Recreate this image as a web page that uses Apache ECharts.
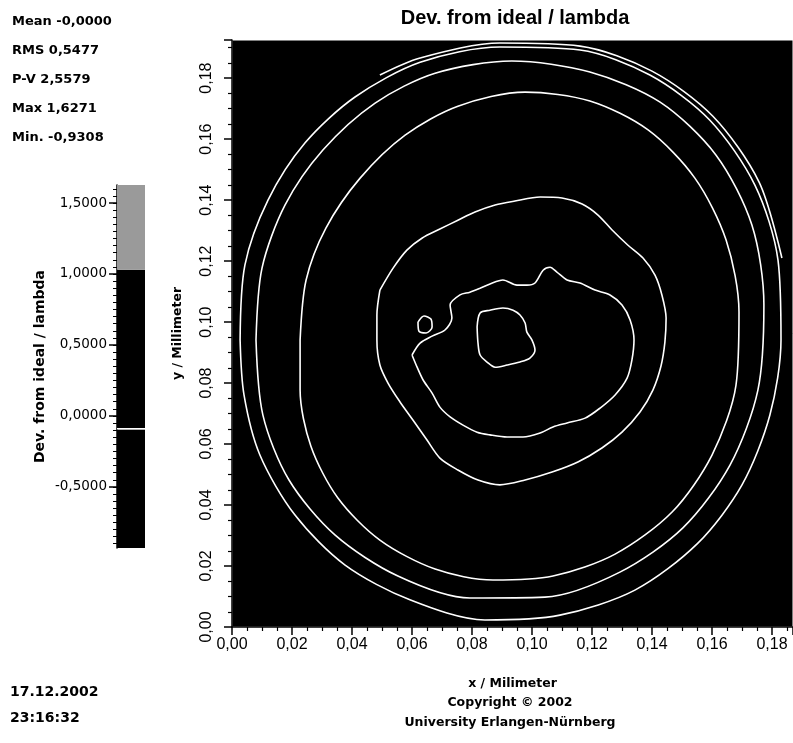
<!DOCTYPE html>
<html><head><meta charset="utf-8">
<script src="https://cdn.jsdelivr.net/npm/echarts@6/dist/echarts.min.js"></script>
<style>html,body{margin:0;padding:0;background:#fff}#c{width:793px;height:743px}</style>
</head><body><div id="c"></div>
<script>
// ---------- data ----------
const chartTitle = 'Dev. from ideal / lambda';
const statNames = ['Mean', 'RMS', 'P-V', 'Max', 'Min.'];
const statValues = ['-0,0000', '0,5477', '2,5579', '1,6271', '-0,9308'];
const dateText = '17.12.2002';
const timeText = '23:16:32';
const xName = 'x / Milimeter';
const yName = 'y / Millimeter';
const footer1 = 'Copyright \u00A9 2002';
const footer2 = 'University Erlangen-N\u00FCrnberg';

const xMin = 0, xMax = 0.187, yMin = 0, yMax = 0.1925, tickStep = 0.02;

// colour bar (Dev. from ideal / lambda)
const cbMin = -0.9308, cbMax = 1.6271;
const cbLabelValues = [-0.5, 0, 0.5, 1, 1.5];
const bandLow  = [-0.9308, -0.095, -0.085, 1.03];
const bandHigh = [-0.095, -0.085, 1.03, 1.6271];

// contour lines [x mm, y mm]
const contour1 = [[0.0817,0.0984],[0.0827,0.1030],[0.0860,0.1039],[0.0903,0.1046],[0.0937,0.1039],[0.0960,0.1023],[0.0977,0.0997],[0.0983,0.0967],[0.1000,0.0941],[0.1010,0.0908],[0.0993,0.0882],[0.0960,0.0869],[0.0917,0.0859],[0.0877,0.0852],[0.0850,0.0869],[0.0827,0.0892],[0.0820,0.0931],[0.0817,0.0984]];
const contour2 = [[0.0600,0.0892],[0.0627,0.0931],[0.0667,0.0954],[0.0710,0.0974],[0.0733,0.1013],[0.0727,0.1056],[0.0760,0.1089],[0.0793,0.1098],[0.0827,0.1111],[0.0860,0.1125],[0.0903,0.1138],[0.0950,0.1121],[0.0983,0.1121],[0.1010,0.1128],[0.1037,0.1170],[0.1060,0.1180],[0.1083,0.1164],[0.1117,0.1138],[0.1160,0.1128],[0.1210,0.1105],[0.1260,0.1089],[0.1300,0.1056],[0.1327,0.1007],[0.1340,0.0941],[0.1333,0.0875],[0.1317,0.0816],[0.1277,0.0761],[0.1227,0.0718],[0.1177,0.0685],[0.1117,0.0669],[0.1070,0.0656],[0.1027,0.0636],[0.0970,0.0623],[0.0917,0.0623],[0.0860,0.0630],[0.0817,0.0639],[0.0770,0.0662],[0.0727,0.0689],[0.0693,0.0721],[0.0667,0.0767],[0.0637,0.0810],[0.0617,0.0852],[0.0600,0.0892]];
const contour2b = [[0.0620,0.1000],[0.0640,0.1020],[0.0663,0.1010],[0.0667,0.0984],[0.0647,0.0964],[0.0623,0.0970],[0.0620,0.1000]];
const contour3 = [[0.0493,0.1105],[0.0537,0.1177],[0.0583,0.1236],[0.0633,0.1275],[0.0693,0.1305],[0.0753,0.1334],[0.0810,0.1361],[0.0877,0.1384],[0.0943,0.1397],[0.1027,0.1410],[0.1100,0.1407],[0.1167,0.1387],[0.1220,0.1351],[0.1267,0.1302],[0.1320,0.1252],[0.1370,0.1210],[0.1410,0.1154],[0.1433,0.1089],[0.1447,0.1013],[0.1443,0.0934],[0.1430,0.0856],[0.1403,0.0777],[0.1360,0.0705],[0.1300,0.0639],[0.1233,0.0587],[0.1153,0.0541],[0.1067,0.0508],[0.0977,0.0482],[0.0893,0.0466],[0.0820,0.0482],[0.0753,0.0515],[0.0693,0.0554],[0.0650,0.0613],[0.0603,0.0679],[0.0560,0.0738],[0.0520,0.0800],[0.0493,0.0859],[0.0483,0.0941],[0.0483,0.1023],[0.0493,0.1105]];
const contour4 = [[0.0227,0.0941],[0.0247,0.1138],[0.0313,0.1308],[0.0427,0.1472],[0.0577,0.1613],[0.0753,0.1708],[0.0977,0.1754],[0.1193,0.1725],[0.1387,0.1630],[0.1543,0.1472],[0.1647,0.1269],[0.1690,0.1033],[0.1680,0.0793],[0.1600,0.0564],[0.1467,0.0377],[0.1277,0.0239],[0.1070,0.0167],[0.0870,0.0154],[0.0677,0.0190],[0.0493,0.0285],[0.0353,0.0423],[0.0263,0.0593],[0.0227,0.0777],[0.0227,0.0941]];
const contour5 = [[0.0080,0.0941],[0.0100,0.1177],[0.0177,0.1384],[0.0303,0.1564],[0.0477,0.1718],[0.0677,0.1816],[0.0933,0.1856],[0.1193,0.1820],[0.1427,0.1721],[0.1613,0.1548],[0.1733,0.1318],[0.1773,0.1056],[0.1753,0.0777],[0.1660,0.0531],[0.1503,0.0325],[0.1293,0.0180],[0.1043,0.0098],[0.0793,0.0095],[0.0553,0.0167],[0.0343,0.0302],[0.0190,0.0482],[0.0103,0.0695],[0.0080,0.0941]];
const contour6 = [[0.0027,0.0941],[0.0043,0.1187],[0.0120,0.1400],[0.0243,0.1587],[0.0410,0.1738],[0.0627,0.1852],[0.0893,0.1902],[0.1160,0.1892],[0.1393,0.1810],[0.1593,0.1662],[0.1743,0.1449],[0.1820,0.1203],[0.1830,0.0941],[0.1793,0.0695],[0.1700,0.0466],[0.1553,0.0275],[0.1343,0.0121],[0.1093,0.0039],[0.0843,0.0023],[0.0593,0.0089],[0.0377,0.0203],[0.0210,0.0367],[0.0093,0.0564],[0.0040,0.0761],[0.0027,0.0941]];
const contour7 = [[0.0493,0.1810],[0.0627,0.1866],[0.0893,0.1915],[0.1160,0.1905],[0.1400,0.1823],[0.1603,0.1675],[0.1757,0.1459],[0.1833,0.1210]];
const contours = [contour1, contour2, contour2b, contour3, contour4, contour5, contour6, contour7];

// ---------- chart ----------
const comma = (v, d) => v.toFixed(d).replace('.', ',');
const cbMinorTicks = [];
for (let k = -18; k <= 32; k++) cbMinorTicks.push(k * 0.05);

const statFont = 'DejaVu Sans';
const txt = (size, weight) => ({ fontFamily: statFont, fontSize: size, fontWeight: weight, color: '#000' });
const titles = [
  { text: chartTitle, left: 515, textAlign: 'center', top: 8, padding: 0,
    textStyle: { fontFamily: 'Liberation Sans', fontWeight: 'bold', fontSize: 20, color: '#000' } }
];
statNames.forEach((n, i) => {
  titles.push({ text: n + ' ' + statValues[i], left: 12, top: 15 + i * 29, padding: 0, textStyle: txt(13, 'bold') });
});
titles.push({ text: dateText, left: 10, top: 685, padding: 0, textStyle: txt(14, 'bold') });
titles.push({ text: timeText, left: 10, top: 711, padding: 0, textStyle: txt(14, 'bold') });
titles.push({ text: footer1, left: 510, textAlign: 'center', top: 696, padding: 0, textStyle: txt(12.5, 'bold') });
titles.push({ text: footer2, left: 510, textAlign: 'center', top: 716, padding: 0, textStyle: txt(12.5, 'bold') });

const cbColors = ['#000000', '#ffffff', '#000000', '#9a9a9a'];

const option = {
  backgroundColor: '#fff',
  animation: false,
  title: titles,
  grid: [
    { left: 232, right: 0, top: 40, bottom: 116, show: true, backgroundColor: '#000', borderColor: '#fff', borderWidth: 1 },
    { left: 117, width: 28, top: 185, height: 363, show: false }
  ],
  xAxis: [
    { gridIndex: 0, type: 'value', min: xMin, max: xMax, interval: tickStep,
      name: xName, nameLocation: 'middle', nameGap: 50,
      nameTextStyle: txt(12.5, 'bold'),
      axisLine: { show: true, onZero: false, lineStyle: { color: '#000', width: 1.5 } },
      axisTick: { show: true, length: 8, lineStyle: { color: '#000', width: 1.5 } },
      minorTick: { show: true, splitNumber: 4, length: 4, lineStyle: { color: '#000', width: 1.2 } },
      splitLine: { show: false },
      axisLabel: { margin: 10, showMaxLabel: false, fontFamily: 'Liberation Sans', fontSize: 16, color: '#000',
        formatter: v => comma(v, 2) } },
    { gridIndex: 1, type: 'value', min: 0, max: 1, show: false }
  ],
  yAxis: [
    { gridIndex: 0, type: 'value', min: yMin, max: yMax, interval: tickStep,
      name: yName, nameLocation: 'middle', nameGap: 48, nameRotate: 90,
      nameTextStyle: txt(12.5, 'bold'),
      axisLine: { show: true, onZero: false, lineStyle: { color: '#000', width: 1.5 } },
      axisTick: { show: true, length: 8, lineStyle: { color: '#000', width: 1.5 } },
      minorTick: { show: true, splitNumber: 4, length: 4, lineStyle: { color: '#000', width: 1.2 } },
      splitLine: { show: false },
      axisLabel: { rotate: 90, margin: 17, showMaxLabel: false, fontFamily: 'Liberation Sans', fontSize: 16, color: '#000',
        formatter: v => comma(v, 2) } },
    { gridIndex: 1, type: 'value', min: cbMin, max: cbMax, position: 'left',
      name: chartTitle, nameLocation: 'middle', nameGap: 70, nameRotate: 90,
      nameTextStyle: txt(14, 'bold'),
      axisLine: { show: true, lineStyle: { color: '#000', width: 1.5 } },
      axisTick: { show: true, length: 8, customValues: cbLabelValues, lineStyle: { color: '#000', width: 1.5 } },
      splitLine: { show: false },
      axisLabel: { customValues: cbLabelValues, margin: 10, fontFamily: statFont, fontSize: 13.5, color: '#000',
        formatter: v => comma(v, 4) } },
    { gridIndex: 1, type: 'value', min: cbMin, max: cbMax, position: 'left',
      axisLine: { show: false },
      axisTick: { show: true, length: 4, customValues: cbMinorTicks, lineStyle: { color: '#000', width: 1 } },
      axisLabel: { show: false }, splitLine: { show: false } }
  ],
  series: [
    ...contours.map(c => ({
      type: 'line', xAxisIndex: 0, yAxisIndex: 0, data: c, smooth: 0.3,
      showSymbol: false, symbol: 'none', silent: true,
      lineStyle: { color: '#fff', width: 1.6 }
    })),
    { type: 'custom', xAxisIndex: 1, yAxisIndex: 1, silent: true,
      data: bandLow.map((lo, i) => [0, lo, 1, bandHigh[i], i]),
      encode: { x: [0, 2], y: [1, 3] },
      renderItem: (params, api) => {
        const p0 = api.coord([api.value(0), api.value(1)]);
        const p1 = api.coord([api.value(2), api.value(3)]);
        return { type: 'rect',
          shape: { x: p0[0], y: p1[1], width: p1[0] - p0[0], height: p0[1] - p1[1] },
          style: { fill: cbColors[api.value(4)] } };
      } }
  ]
};
const chart = echarts.init(document.getElementById('c'), null, { renderer: 'canvas' });
chart.setOption(option);
</script></body></html>
